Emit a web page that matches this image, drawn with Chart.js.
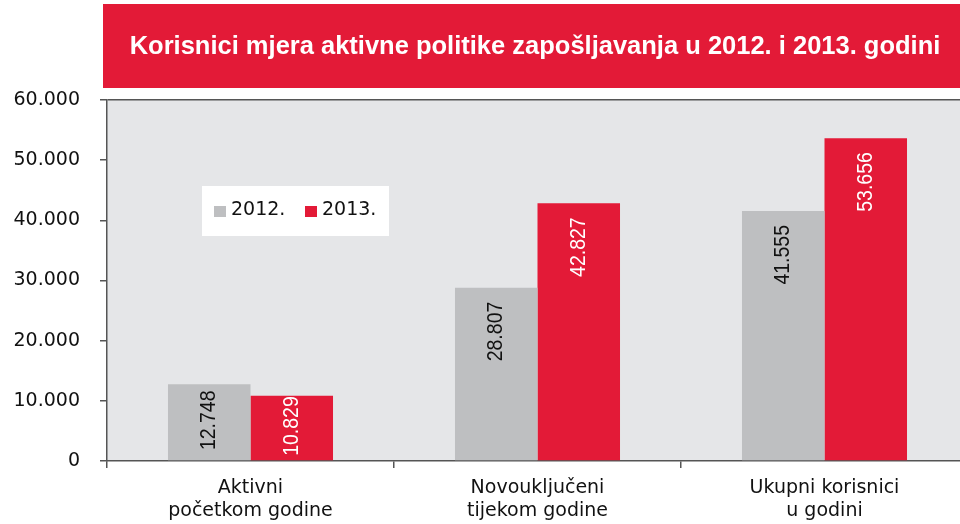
<!DOCTYPE html>
<html>
<head>
<meta charset="utf-8">
<script src="https://cdn.jsdelivr.net/npm/chart.js@4"></script>
<style>
  html, body { margin: 0; padding: 0; background: #fff; overflow: hidden; }
  #wrap { width: 960px; height: 524px; overflow: hidden; }
</style>
</head>
<body>
<div id="wrap"><canvas id="myChart" width="968" height="524"></canvas></div>
<script>
const title = "Korisnici mjera aktivne politike zapošljavanja u 2012. i 2013. godini";
const categories = [
  ["Aktivni", "početkom godine"],
  ["Novouključeni", "tijekom godine"],
  ["Ukupni korisnici", "u godini"],
];
const seriesNames = ["2012.", "2013."];
const values2012 = [12748, 28807, 41555];
const values2013 = [10829, 42827, 53656];
const yTicks = [0, 10000, 20000, 30000, 40000, 50000, 60000];

const RED = "#e31a37";
const GRAY = "#bebfc1";
const AXIS = "#555555";

const fmt = (v) => String(v).replace(/\B(?=(\d{3})+(?!\d))/g, ".");

Chart.defaults.font.family = "'DejaVu Sans', sans-serif";
Chart.defaults.font.size = 19;
Chart.defaults.color = "#111";

const decor = {
  id: "decor",
  beforeDraw(chart) {
    const { ctx, chartArea: a } = chart;
    ctx.save();
    // title band
    ctx.fillStyle = RED;
    ctx.fillRect(103, 4, 857, 84);
    ctx.fillStyle = "#fff";
    ctx.font = "bold 25.5px 'Liberation Sans', Arial, sans-serif";
    ctx.textAlign = "center";
    ctx.textBaseline = "middle";
    ctx.fillText(title, 535, 47);
    // plot background
    ctx.fillStyle = "#e5e6e8";
    ctx.fillRect(a.left, a.top, a.right - a.left, a.bottom - a.top);
    ctx.restore();
  },
  afterDatasetsDraw(chart) {
    const { ctx } = chart;
    ctx.save();
    ctx.font = "19.5px 'Liberation Sans', Arial, sans-serif";
    chart.data.datasets.forEach((ds, i) => {
      const meta = chart.getDatasetMeta(i);
      meta.data.forEach((bar, j) => {
        const label = fmt(ds.data[j]);
        const len = ctx.measureText(label).width;
        const h = bar.base - bar.y;
        ctx.save();
        ctx.fillStyle = i === 0 ? "#111" : "#fff";
        ctx.textBaseline = "middle";
        if (h > len + 30) {
          ctx.translate(bar.x, bar.y + 14);
          ctx.scale(1.15, 1);
          ctx.rotate(-Math.PI / 2);
          ctx.textAlign = "right";
        } else {
          ctx.translate(bar.x, (bar.y + bar.base) / 2 - 2);
          ctx.scale(1.15, 1);
          ctx.rotate(-Math.PI / 2);
          ctx.textAlign = "center";
        }
        ctx.fillText(label, 0, 0);
        ctx.restore();
      });
    });
    // legend box
    const a = chart.chartArea;
    const bx = a.left + 95, by = a.top + 86;
    ctx.fillStyle = "#fff";
    ctx.fillRect(bx, by, 187, 50);
    ctx.font = "19px 'DejaVu Sans', sans-serif";
    ctx.textAlign = "left";
    ctx.textBaseline = "middle";
    let x = bx + 12;
    chart.data.datasets.forEach((ds) => {
      ctx.fillStyle = ds.backgroundColor;
      ctx.fillRect(x, by + 20, 12, 11);
      ctx.fillStyle = "#111";
      ctx.fillText(ds.label, x + 17, by + 24);
      x += 91;
    });
    ctx.restore();
  },
};

const ctx = document.getElementById("myChart").getContext("2d");
const chart = new Chart(ctx, {
  type: "bar",
  data: {
    labels: categories,
    datasets: [
      {
        label: seriesNames[0],
        data: values2012,
        backgroundColor: GRAY,
        categoryPercentage: 0.575,
        barPercentage: 1,
      },
      {
        label: seriesNames[1],
        data: values2013,
        backgroundColor: RED,
        categoryPercentage: 0.575,
        barPercentage: 1,
      },
    ],
  },
  options: {
    responsive: false,
    animation: false,
    layout: { padding: { top: 100, left: 0, right: 0, bottom: 0 } },
    plugins: {
      legend: { display: false },
      tooltip: { enabled: false },
    },
    scales: {
      x: {
        grid: {
          offset: true,
          drawOnChartArea: false,
          tickColor: AXIS,
          tickLength: 7,
          lineWidth: 1.5,
        },
        border: { display: true, color: AXIS, width: 1.5 },
        ticks: { padding: 9, color: "#111", maxRotation: 0 },
        afterFit: (s) => { s.height = 63; },
      },
      y: {
        min: 0,
        max: 60000,
        afterBuildTicks: (s) => { s.ticks = yTicks.map((v) => ({ value: v })); },
        ticks: { padding: 20, color: "#111", callback: (v) => fmt(v) },
        grid: {
          color: (c) => (c.tick && c.tick.value === 60000 ? AXIS : "transparent"),
          tickColor: AXIS,
          tickLength: 7,
          lineWidth: 1.5,
        },
        border: { display: true, color: AXIS, width: 1.5 },
        afterFit: (s) => { s.width = 107; },
      },
    },
  },
  plugins: [decor],
});
</script>
</body>
</html>
